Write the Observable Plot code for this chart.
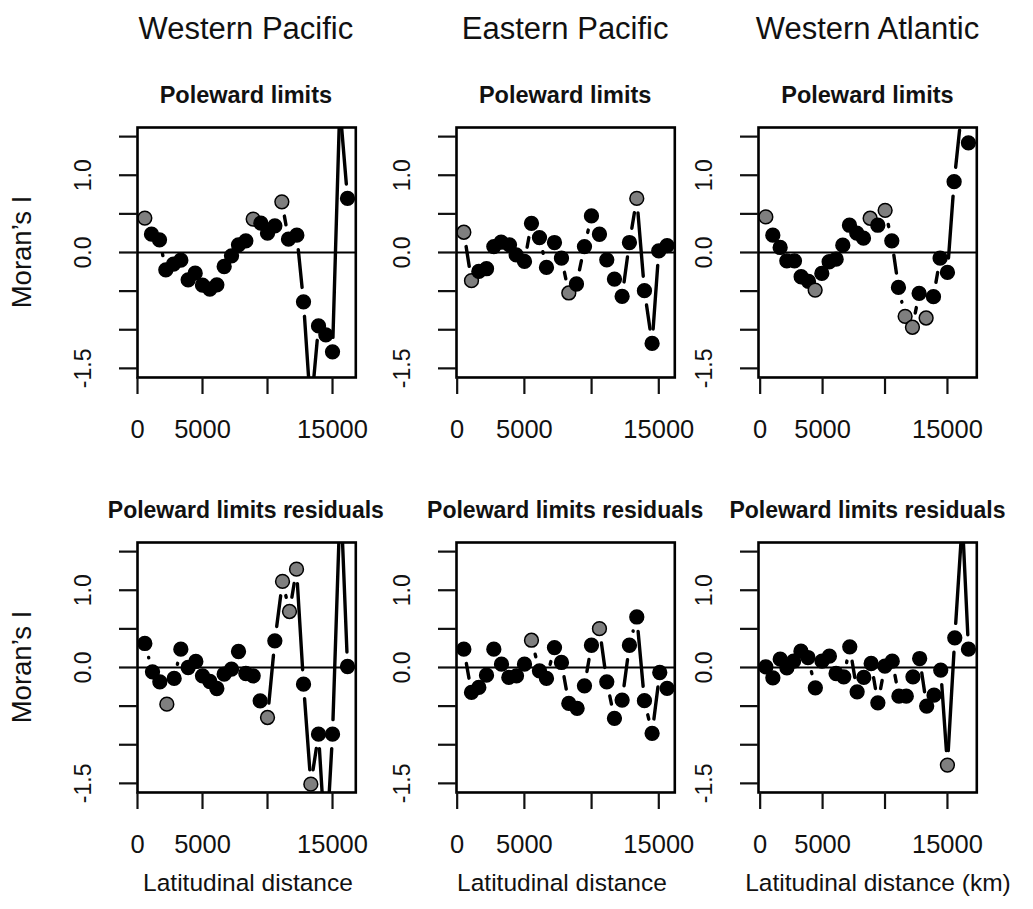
<!DOCTYPE html>
<html><head><meta charset="utf-8">
<script src="https://cdn.jsdelivr.net/npm/d3@7"></script>
<script src="https://cdn.jsdelivr.net/npm/@observablehq/plot@0.6"></script>
<style>
body{margin:0;background:#fff;}
#fig{position:relative;width:1033px;height:909px;overflow:hidden;font-family:"Liberation Sans",Arial,Helvetica,sans-serif;color:#111;}
.lbl{position:absolute;white-space:nowrap;line-height:1;transform:translate(-50%,-50%);}
.panel{position:absolute;}
</style></head><body><div id="fig"></div>
<script>
// ---------- text ----------
const regions = ["Western Pacific", "Eastern Pacific", "Western Atlantic"];
const rowTitles = ["Poleward limits", "Poleward limits residuals"];
const xLabels = ["Latitudinal distance", "Latitudinal distance", "Latitudinal distance (km)"];
const yLabel = "Moran’s I";
const xTicks = [0, 5000, 10000, 15000];
const xTickLabels = ["0", "5000", "", "15000"];
const yTicks = [-1.5, -1, -0.5, 0, 0.5, 1, 1.5];
const yTickLabels = ["-1.5", "", "", "0.0", "", "1.0", ""];

// ---------- data: Western Pacific ----------
const wpPoleX = [564, 1077, 1692, 2179, 2769, 3333, 3897, 4436, 5000, 5564, 6103, 6667, 7231, 7769, 8333, 8897, 9487, 10000, 10564, 11103, 11615, 12256, 12769, 13333, 13923, 14487, 15000, 15560, 16154];
const wpPoleY = [0.445, 0.237, 0.164, -0.224, -0.151, -0.099, -0.354, -0.268, -0.423, -0.475, -0.419, -0.181, -0.043, 0.099, 0.151, 0.432, 0.38, 0.25, 0.345, 0.656, 0.173, 0.224, -0.639, -2.05, -0.95, -1.066, -1.286, 1.9, 0.70];
const wpPoleSig = [0, 15, 19];
const wpResX = [564, 1154, 1718, 2256, 2820, 3333, 3897, 4487, 5000, 5564, 6103, 6667, 7231, 7769, 8333, 8897, 9436, 10000, 10564, 11154, 11692, 12231, 12769, 13333, 13923, 14487, 15000, 15615, 16154];
const wpResY = [0.311, -0.056, -0.186, -0.475, -0.142, 0.237, 0.0, 0.078, -0.108, -0.181, -0.272, -0.086, -0.022, 0.207, -0.078, -0.108, -0.432, -0.647, 0.345, 1.114, 0.725, 1.273, -0.216, -1.51, -0.863, -2.4, -0.863, 2.27, 0.013];
const wpResSig = [3, 17, 19, 20, 21, 23];

// ---------- data: Eastern Pacific ----------
const epPoleX = [496, 1066, 1611, 2182, 2727, 3272, 3892, 4388, 5008, 5528, 6123, 6644, 7239, 7759, 8305, 8875, 9470, 9990, 10585, 11130, 11701, 12271, 12816, 13362, 13932, 14502, 14998, 15618];
const epPoleY = [0.262, -0.365, -0.245, -0.21, 0.077, 0.133, 0.099, -0.03, -0.116, 0.378, 0.193, -0.193, 0.129, -0.073, -0.524, -0.408, 0.077, 0.473, 0.236, -0.095, -0.344, -0.567, 0.129, 0.70, -0.494, -1.177, 0.021, 0.09];
const epPoleSig = [0, 1, 14, 23];
const epResX = [496, 1066, 1611, 2182, 2727, 3297, 3842, 4413, 5008, 5528, 6123, 6644, 7239, 7759, 8305, 8924, 9470, 9990, 10585, 11130, 11701, 12271, 12816, 13362, 13932, 14502, 15072, 15618];
const epResY = [0.237, -0.323, -0.258, -0.099, 0.237, 0.043, -0.129, -0.108, 0.043, 0.353, -0.043, -0.142, 0.258, 0.065, -0.465, -0.529, -0.237, 0.288, 0.503, -0.185, -0.658, -0.422, 0.288, 0.654, -0.43, -0.852, -0.065, -0.271];
const epResSig = [9, 18];

// ---------- data: Western Atlantic ----------
const waPoleX = [454, 1014, 1601, 2135, 2749, 3283, 3870, 4404, 4938, 5525, 6085, 6619, 7153, 7740, 8274, 8808, 9422, 10009, 10543, 11076, 11610, 12197, 12731, 13292, 13879, 14413, 15000, 15534, 16094, 16681];
const waPoleY = [0.46, 0.224, 0.065, -0.108, -0.108, -0.314, -0.374, -0.486, -0.271, -0.12, -0.086, 0.095, 0.353, 0.25, 0.185, 0.443, 0.353, 0.546, 0.151, -0.452, -0.826, -0.968, -0.529, -0.848, -0.572, -0.073, -0.258, 0.917, 1.77, 1.42];
const waPoleSig = [0, 7, 15, 17, 20, 21, 23];
const waResX = [455, 1018, 1607, 2142, 2678, 3267, 3829, 4419, 4954, 5544, 6079, 6695, 7177, 7766, 8302, 8891, 9427, 9989, 10578, 11114, 11703, 12238, 12774, 13336, 13926, 14462, 14998, 15587, 16194, 16684];
const waResY = [0.009, -0.134, 0.108, -0.004, 0.082, 0.211, 0.129, -0.263, 0.082, 0.147, -0.078, -0.121, 0.267, -0.315, -0.129, 0.052, -0.457, 0.017, 0.082, -0.371, -0.371, -0.121, 0.116, -0.5, -0.358, -0.034, -1.263, 0.384, 1.905, 0.237];
const waResSig = [26];

// ---------- layout ----------
const FONT = '"Liberation Sans", Arial, Helvetica, sans-serif';
const colBoxLeft = [136.7, 456, 758.3];
const boxW = 218.3;
const rowBoxTop = [126.7, 541.7];
const boxH = 250;
const xDomains = [[0, 16790], [-50, 16190], [-133, 17350]];
const yDomain = [-1.618, 1.618];

const fig = document.getElementById("fig");

function addLabel(text, cx, cy, size, weight, rotate) {
  const d = document.createElement("div");
  d.className = "lbl";
  d.textContent = text;
  d.style.left = cx + "px";
  d.style.top = cy + "px";
  d.style.fontSize = size + "px";
  d.style.fontWeight = weight || "normal";
  if (rotate) d.style.transform = "translate(-50%,-50%) rotate(" + rotate + "deg)";
  fig.appendChild(d);
}

function panel(xs, ys, sig, col, row) {
  const pts = xs.map((x, i) => ({x, y: ys[i], g: sig.includes(i)}));
  const segs = d3.pairs(pts).map(([a, b]) => ({x1: a.x, y1: a.y, x2: b.x, y2: b.y}));
  const mL = 75, mR = 12, mT = 12, mB = 75;
  const svg = Plot.plot({
    width: boxW + mL + mR,
    height: boxH + mT + mB,
    marginLeft: mL, marginRight: mR, marginTop: mT, marginBottom: mB,
    x: {domain: xDomains[col]},
    y: {domain: yDomain},
    style: {fontFamily: FONT, background: "transparent", overflow: "visible", color: "#111"},
    marks: [
      Plot.ruleY([0], {stroke: "#000", strokeWidth: 2.2}),
      Plot.arrow(segs, {x1: "x1", y1: "y1", x2: "x2", y2: "y2", headLength: 0,
        insetStart: 14.5, insetEnd: 14.5, stroke: "#000", strokeWidth: 3.4, clip: true}),
      Plot.dot(pts, {x: "x", y: "y", r: 6.9, fill: d => d.g ? "#7f7f7f" : "#000",
        stroke: "#000", strokeWidth: 1.5, clip: true}),
      Plot.frame({stroke: "#000", strokeWidth: 2.6}),
      Plot.axisX({ticks: xTicks, tickSize: 17, tickPadding: 25, fontSize: 25.5,
        tickFormat: d => xTickLabels[xTicks.indexOf(d)], label: null, strokeWidth: 2.2}),
      Plot.axisY({ticks: yTicks, tickSize: 18, tickFormat: () => "", label: null, strokeWidth: 2.2}),
      Plot.text(yTicks.map((v, i) => ({v, t: yTickLabels[i]})).filter(d => d.t),
        {y: "v", text: "t", frameAnchor: "left", dx: -54, rotate: -90, fontSize: 23,
         textAnchor: "middle", lineAnchor: "middle", fill: "#111"})
    ]
  });
  svg.classList.add("panel");
  svg.style.left = (colBoxLeft[col] - mL) + "px";
  svg.style.top = (rowBoxTop[row] - mT) + "px";
  fig.appendChild(svg);
}

panel(wpPoleX, wpPoleY, wpPoleSig, 0, 0);
panel(epPoleX, epPoleY, epPoleSig, 1, 0);
panel(waPoleX, waPoleY, waPoleSig, 2, 0);
panel(wpResX, wpResY, wpResSig, 0, 1);
panel(epResX, epResY, epResSig, 1, 1);
panel(waResX, waResY, waResSig, 2, 1);

const xLabelCenters = [248, 562, 878];
regions.forEach((r, c) => {
  const cx = colBoxLeft[c] + boxW / 2;
  addLabel(r, cx, 28, 31);
  addLabel(rowTitles[0], cx, 96, 23.5, "bold");
  addLabel(rowTitles[1], cx, 510, 23, "bold");
  addLabel(xLabels[c], xLabelCenters[c], 883, 24.5);
});
addLabel(yLabel, 22, 252, 27.5, "normal", -90);
addLabel(yLabel, 22, 667, 27.5, "normal", -90);
</script></body></html>
